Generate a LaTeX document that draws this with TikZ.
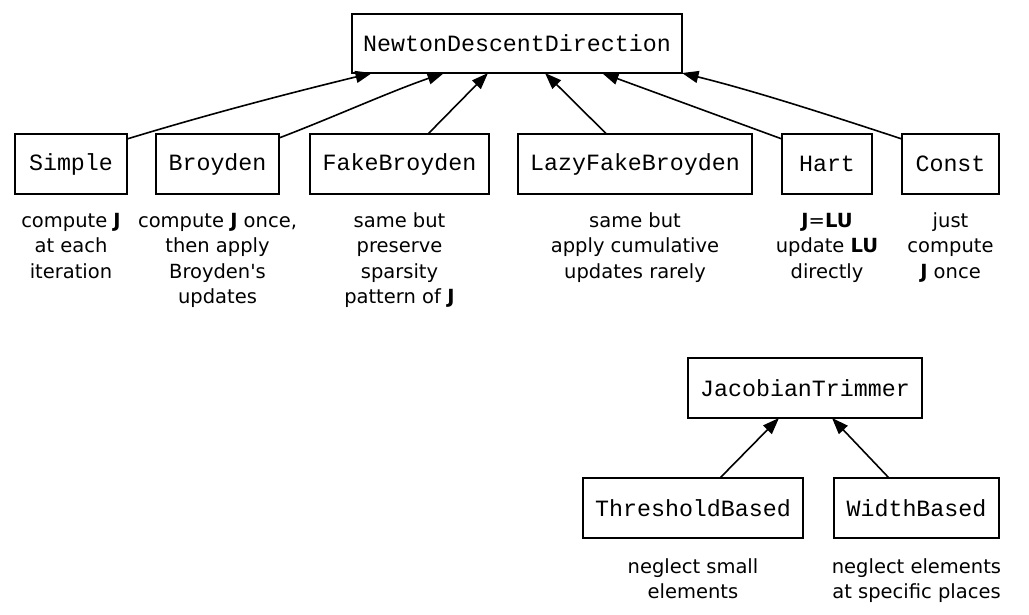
\documentclass[tikz,border=0pt]{standalone}
\usepackage{fontspec}
\setmainfont{DejaVu Sans}
\setmonofont{Liberation Mono}
\usetikzlibrary{arrows.meta}
\begin{document}
\begin{tikzpicture}[x=1pt,y=-1pt,
  cls/.style={draw, line width=1.6pt, inner sep=0pt, outer sep=0pt, minimum height=60pt, font=\fontsize{23.3}{27}\selectfont\ttfamily},
  lbl/.style={anchor=base, align=center, inner sep=0pt, font=\fontsize{19.5}{25.5}\selectfont},
  inh/.style={line width=1.6pt, -{Triangle[length=16.5pt,width=12pt]}}]
\useasboundingbox (0,0) rectangle (1029,615);
% classes
\node[cls, minimum width=330pt, minimum height=59pt] (ndd) at (517,43.5) {NewtonDescentDirection};
\node[cls, minimum width=112pt] (simple) at (71,164) {Simple};
\node[cls, minimum width=123pt] (broyden) at (217.5,164) {Broyden};
\node[cls, minimum width=179pt] (fb) at (399.5,164) {FakeBroyden};
\node[cls, minimum width=234pt] (lazy) at (635,164) {LazyFakeBroyden};
\node[cls, minimum width=90pt] (hart) at (827,164) {Hart};
\node[cls, minimum width=97pt] (const) at (950.5,164) {Const};
\node[cls, minimum width=234pt] (jt) at (805,388) {JacobianTrimmer};
\node[cls, minimum width=220pt] (thr) at (693,508) {ThresholdBased};
\node[cls, minimum width=165pt] (wb) at (916.5,508) {WidthBased};
% descriptions (base anchor = baseline of the last line)
\node[lbl] (lsimple) at (71,278) {compute \textbf{J}\\at each\\iteration};
\node[lbl] (lbroyden) at (217.5,303.5) {compute \textbf{J} once,\\then apply\\Broyden\textquotesingle s\\updates};
\node[lbl] (lfb) at (399.5,303.5) {same but\\preserve\\sparsity\\pattern of \textbf{J}};
\node[lbl] (llazy) at (635,278) {same but\\apply cumulative\\updates rarely};
\node[lbl] (lhart) at (827,278) {\textbf{J}=\textbf{LU}\\update \textbf{LU}\\directly};
\node[lbl] (lconst) at (950.5,278) {just\\compute\\\textbf{J} once};
\node[lbl] (lthr) at (693,598.5) {neglect small\\elements};
\node[lbl] (lwb) at (916.5,598.5) {neglect elements\\at specific places};
% connectors
\draw[inh] ([yshift=-5pt]simple.north east) .. controls +(82,-25) and +(-82,20) .. ([xshift=20pt]ndd.south west);
\draw[inh] ([yshift=-4pt]broyden.north east) .. controls +(55,-21) and +(-55,19) .. ([xshift=92pt]ndd.south west);
\draw[inh] ([xshift=118pt]fb.north west) -- ([xshift=136pt]ndd.south west);
\draw[inh] ([xshift=88.5pt]lazy.north west) -- ([xshift=193pt]ndd.south west);
\draw[inh] ([yshift=-5pt]hart.north west) -- ([xshift=250pt]ndd.south west);
\draw[inh] ([yshift=-5pt]const.north west) .. controls +(-73,-24) and +(73,18) .. (ndd.south east);
\draw[inh] ([xshift=137pt]thr.north west) -- ([xshift=91pt]jt.south west);
\draw[inh] ([xshift=55pt]wb.north west) -- ([xshift=144pt]jt.south west);
\end{tikzpicture}
\end{document}
